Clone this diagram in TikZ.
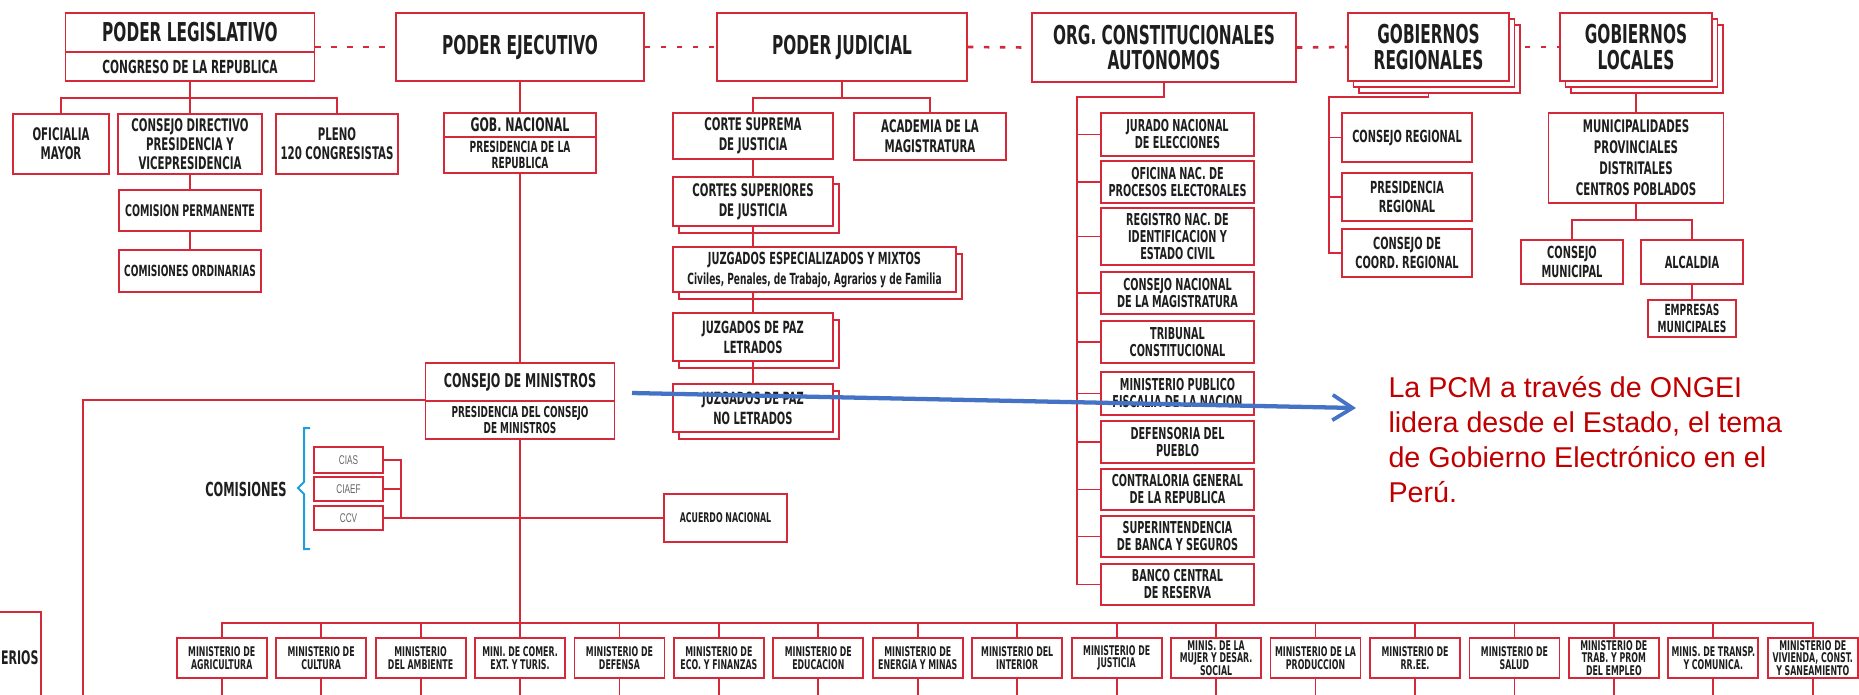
\documentclass[tikz,border=0pt]{standalone}
\usepackage{fontspec}
\setmainfont{Liberation Sans}
\newfontfamily\heavy{DejaVu Sans}[FakeStretch=0.59]
\newfontfamily\slim{Liberation Sans}[FakeStretch=0.65]
\usetikzlibrary{arrows.meta}

\definecolor{orgred}{RGB}{214,40,56}
\definecolor{txtdark}{RGB}{30,30,30}
\definecolor{pcmred}{RGB}{192,0,0}
\definecolor{arrowblue}{RGB}{68,114,196}
\definecolor{bracecyan}{RGB}{30,160,215}
\newcommand{\fsz}[2]{\fontsize{#1}{#2}\selectfont}

\tikzset{every picture/.style={line width=0.75pt}}
\tikzset{
  box/.style={draw=orgred, line width=1.4pt, fill=white, inner sep=0pt, align=center, text=txtdark},
  hdr/.style={box, font=\heavy\bfseries\fsz{19.5}{19}},
  unit/.style 2 args={box, font=\heavy\bfseries\fsz{#1}{#2}},
  mini/.style={unit={10}{9.5}, wh={90}{40}},
  cmt/.style={box, font=\slim\fsz{9.5}{10}, text=black!60},
  wh/.style 2 args={minimum width=#1*0.75pt, minimum height=#2*0.75pt},
  stack/.style={preaction={draw=orgred, fill=white, line width=1.4pt, transform canvas={xshift=4.5pt, yshift=-5pt}}},
  stack2/.style={preaction={draw=orgred, fill=white, line width=1.4pt, transform canvas={xshift=8.25pt, yshift=-9pt}},
                 preaction={draw=orgred, fill=white, line width=1.4pt, transform canvas={xshift=4.1pt, yshift=-4.5pt}}},
  link/.style={draw=orgred, line width=1.4pt},
  dots/.style={draw=orgred, line width=2pt, dash pattern=on 4pt off 8pt},
  bracket/.style={draw=bracecyan, line width=1.5pt},
  pcmarrow/.style={draw=arrowblue, line width=3.2pt, -{Straight Barb[length=15pt, width=19pt, line width=2.8pt]}}
}

\begin{document}
\begin{tikzpicture}[x=0.75pt,y=0.75pt,yscale=-1,xscale=1]
\useasboundingbox (0,0) rectangle (1859,694);
\fill[white] (0,0) rectangle (1859,694);
\clip (0,0) rectangle (1859,694);

% header row
\node[hdr, wh={249}{39}] (legT) at (190,32.5) {PODER LEGISLATIVO};
\node[unit={13.5}{14}, wh={249}{29}] (legS) at (190,66.5) {CONGRESO DE LA REPUBLICA};
\node[hdr, wh={248}{68}] (ejec) at (520,47) {PODER EJECUTIVO};
\node[hdr, wh={250}{68}] (jud) at (842,47) {PODER JUDICIAL};
\node[hdr, wh={264}{69}] (org) at (1164,47.5) {ORG. CONSTITUCIONALES\\AUTONOMOS};
\node[hdr, stack2, wh={161}{68}] (gobreg) at (1428.5,47) {GOBIERNOS\\REGIONALES};
\node[hdr, stack2, wh={152}{68}] (gobloc) at (1636,47) {GOBIERNOS\\LOCALES};

%Dashed Lines
\draw[dots] (legS.east |- ejec.west) -- (ejec.west);
\draw[dots] (ejec.east) -- (jud.west);
\draw[dots] (jud.east) -- (org.west);
\draw[dots] (org.east) -- (gobreg.west);
\draw[dots] ([shift={(15,0)}]gobreg.east) -- (gobloc.west);

% poder legislativo
\node[unit={13}{14.25}, wh={96}{60}] (ofic) at (61,144) {OFICIALIA\\MAYOR};
\node[unit={13}{14.25}, wh={144}{60}] (cdir) at (190,144) {CONSEJO DIRECTIVO\\PRESIDENCIA Y\\VICEPRESIDENCIA};
\node[unit={13}{14.25}, wh={122}{60}] (pleno) at (337,144) {PLENO\\120 CONGRESISTAS};
\node[unit={12}{13}, wh={142}{41}] (cperm) at (190,210.5) {COMISION PERMANENTE};
\node[unit={11.5}{13}, wh={142}{42}] (cord) at (190,271) {COMISIONES ORDINARIAS};
\coordinate (legbar) at (190,98);
\draw[link] (legS) -- (cdir);
\draw[link] (ofic.north) |- (legbar) -| (pleno.north);
\draw[link] (cdir) -- (cperm);
\draw[link] (cperm) -- (cord);

% poder ejecutivo
\node[unit={14}{15}, wh={152}{24}] (gobnT) at (520,125) {GOB. NACIONAL};
\node[unit={11.5}{11.5}, wh={152}{36}] (gobnS) at (520,155) {PRESIDENCIA DE LA\\REPUBLICA};
\node[unit={14.25}{15}, wh={189}{38}] (cminT) at (520,382) {CONSEJO DE MINISTROS};
\node[unit={11.3}{12.5}, wh={189}{38}] (cminS) at (520,420) {PRESIDENCIA DEL CONSEJO\\DE MINISTROS};
\draw[link] (ejec) -- (gobnT);
\draw[link] (gobnS) -- (cminT);
\coordinate (sectores) at (83,700);
\draw[link] (cminS.north west) -| (sectores);

% comisiones
\node[cmt, wh={69}{26}] (cias) at (348.5,460) {CIAS};
\node[cmt, wh={69}{24}] (ciaef) at (348.5,489) {CIAEF};
\node[cmt, wh={69}{24}] (ccv) at (348.5,518) {CCV};
\node[unit={10}{11}, wh={123}{48}] (acuerdo) at (725.5,518) {ACUERDO NACIONAL};
\node[font=\heavy\bfseries\fsz{14.5}{15}, text=txtdark, inner sep=0pt] (comis) at (246,489) {COMISIONES};
\draw[bracket] (310,428) -- (304,428) -- (304,482) -- (298,488) -- (304,494) -- (304,549) -- (310,549);
\draw[link] (cias.east) -- ++(17,0) |- (ccv.east);
\draw[link] (ciaef.east) -- ++(17,0);
\draw[link] (ccv) -- (acuerdo);

% poder judicial
\node[unit={13}{15}, wh={160}{46}] (csup) at (753,136) {CORTE SUPREMA\\DE JUSTICIA};
\node[unit={13}{15}, wh={152}{47}] (acad) at (930,136.5) {ACADEMIA DE LA\\MAGISTRATURA};
\node[unit={13}{15}, stack, wh={160}{49}] (csupr) at (753,201.5) {CORTES SUPERIORES\\DE JUSTICIA};
\node[unit={12.5}{15}, stack, wh={283}{45}] (juzesp) at (814.5,269.5) {JUZGADOS ESPECIALIZADOS Y MIXTOS\\{\fsz{11.5}{15}Civiles, Penales, de Trabajo, Agrarios y de Familia}};
\node[unit={12.6}{15}, stack, wh={160}{48}] (jpl) at (753,337) {JUZGADOS DE PAZ\\LETRADOS};
\node[unit={12.6}{15}, stack, wh={160}{48}] (jpnl) at (753,408) {JUZGADOS DE PAZ\\NO LETRADOS};
\coordinate (judbar) at (842,98);
\draw[link] (jud) -- (judbar);
\draw[link] (csup.north) |- (judbar) -| (acad.north);
\draw[link] (csup) -- (csupr);
\draw[link] (csupr.south) -- (csupr.south |- juzesp.north);
\draw[link] (jpl.north |- juzesp.south) -- (jpl.north);
\draw[link] (jpl) -- (jpnl);

% organismos constitucionales autonomos
\coordinate (orgbar) at (1077,97);
\foreach \n/\y/\h/\t in {jne/134.5/43/{JURADO NACIONAL\\DE ELECCIONES},
    onpe/182/42/{OFICINA NAC. DE\\PROCESOS ELECTORALES},
    reniec/236.5/57/{REGISTRO NAC. DE\\IDENTIFICACION Y\\ESTADO CIVIL},
    cnm/293/42/{CONSEJO NACIONAL\\DE LA MAGISTRATURA},
    tc/342/42/{TRIBUNAL\\CONSTITUCIONAL},
    mp/393.5/43/{MINISTERIO PUBLICO\\FISCALIA DE LA NACION},
    dp/442/42/{DEFENSORIA DEL\\PUEBLO},
    cgr/489.5/41/{CONTRALORIA GENERAL\\DE LA REPUBLICA},
    sbs/536.5/41/{SUPERINTENDENCIA\\DE BANCA Y SEGUROS},
    bcr/584.5/41/{BANCO CENTRAL\\DE RESERVA}}{
  \node[unit={12.3}{12.75}, wh={153}{\h}] (\n) at (1177.5,\y) {\t};
  \draw[link] (\n.west) -- (\n.west -| orgbar);
}
\draw[link] (org.south) |- (orgbar) |- (bcr.west);

% gobiernos regionales
\node[unit={12.5}{13.75}, wh={130}{49}] (creg) at (1407,137.5) {CONSEJO REGIONAL};
\node[unit={12.5}{13.75}, wh={130}{48}] (preg) at (1407,197) {PRESIDENCIA\\REGIONAL};
\node[unit={12.5}{13.75}, wh={130}{48}] (ccr) at (1407,253) {CONSEJO DE\\COORD. REGIONAL};
\coordinate (regbar) at (1329,97);
\draw[link] ([shift={(0,12)}]gobreg.south) |- (regbar) |- (ccr.west);
\draw[link] (creg.west) -- (creg.west -| regbar);
\draw[link] (preg.west) -- (preg.west -| regbar);

% gobiernos locales
\node[unit={13}{15.75}, wh={175}{90}] (muni) at (1636,158) {MUNICIPALIDADES\\PROVINCIALES\\DISTRITALES\\CENTROS POBLADOS};
\node[unit={12.5}{13.75}, wh={102}{44}] (cmun) at (1572,262) {CONSEJO\\MUNICIPAL};
\node[unit={12.5}{13.75}, wh={102}{44}] (alc) at (1692,262) {ALCALDIA};
\node[unit={11.5}{12.5}, wh={88}{37}] (emp) at (1692,318.5) {EMPRESAS\\MUNICIPALES};
\coordinate (locbar) at (1636,220);
\draw[link] ([shift={(0,12)}]gobloc.south) -- (muni.north);
\draw[link] (muni) -- (locbar);
\draw[link] (cmun.north) |- (locbar) -| (alc.north);
\draw[link] (alc) -- (emp);

% ministerios
\foreach \i/\t in {1/{MINISTERIO DE\\AGRICULTURA}, 2/{MINISTERIO DE\\CULTURA},
    3/{MINISTERIO\\DEL AMBIENTE}, 4/{MINI. DE COMER.\\EXT. Y TURIS.},
    5/{MINISTERIO DE\\DEFENSA}, 6/{MINISTERIO DE\\ECO. Y FINANZAS},
    7/{MINISTERIO DE\\EDUCACION}, 8/{MINISTERIO DE\\ENERGIA Y MINAS},
    9/{MINISTERIO DEL\\INTERIOR}, 10/{MINISTERIO DE\\JUSTICIA},
    11/{MINIS. DE LA\\MUJER Y DESAR.\\SOCIAL}, 12/{MINISTERIO DE LA\\PRODUCCION},
    13/{MINISTERIO DE\\RR.EE.}, 14/{MINISTERIO DE\\SALUD},
    15/{MINISTERIO DE\\TRAB. Y PROM\\DEL EMPLEO}, 16/{MINIS. DE TRANSP.\\Y COMUNICA.},
    17/{MINISTERIO DE\\VIVIENDA, CONST.\\Y SANEAMIENTO}}{
  \node[mini] (m\i) at ({221.7+(\i-1)*99.44},658) {\t};
  \draw[link] (m\i.south) -- ++(0,20);
}
\coordinate (mbar) at (520,623);
\draw[link] (m1.north) |- (mbar) -| (m17.north);
\foreach \i in {2,...,16} \draw[link] (m\i.north) -- (m\i.north |- mbar);
\draw[link] (cminS) -- (m4);

% cut box at the left edge
\draw[link] (0,612) -- (41,612) -- (41,700);
\node[anchor=east, font=\heavy\bfseries\fsz{14}{15}, text=txtdark, inner sep=0pt] (sectlbl) at (39,658) {ERIOS};

% Text Node
\node[anchor=north west, align=left, inner sep=0pt, text=pcmred, font=\fsz{21.5}{26.25}] (ongei) at (1388,376) {La PCM a través de ONGEI\\lidera desde el Estado, el tema\\de Gobierno Electrónico en el\\Perú.};

%Straight Lines
\coordinate (pcm) at (632,393);
\coordinate (tip) at (1356,408);
\draw[pcmarrow] (pcm) -- (tip);

\end{tikzpicture}
\end{document}
